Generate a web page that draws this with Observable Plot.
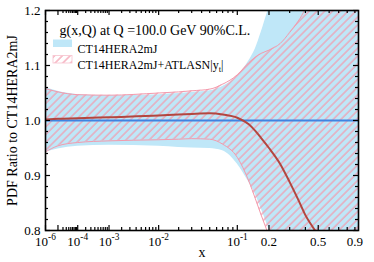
<!DOCTYPE html>
<html><head><meta charset="utf-8">
<script src="https://cdn.jsdelivr.net/npm/d3@7"></script>
<script src="https://cdn.jsdelivr.net/npm/@observablehq/plot@0.6"></script>
<style>
body{margin:0;background:#fff}
svg{display:block}
#chart svg, #chart svg text, #chart svg g {font-family: "Liberation Serif", "DejaVu Serif", serif !important;}
</style>
</head><body><div id="chart"></div>
<script>
// momentum fraction x
const xs =        [1e-6, 1e-5, 1e-4, 1e-3, 1e-2, 0.02, 0.03, 0.05, 0.07, 0.1, 0.13, 0.15, 0.17, 0.2, 0.25, 0.3, 0.35, 0.4, 0.5, 0.7, 0.95];
// CT14HERA2mJ 90% CL band (ratio to its own central)
const baseUpper = [1.060,1.053,1.047,1.045,1.047,1.049,1.051,1.054,1.062,1.080,1.108,1.130,1.160,1.205,1.26,1.32,1.38,1.44,1.55,1.70,1.85];
const baseLower = [0.942,0.948,0.953,0.955,0.953,0.951,0.950,0.949,0.945,0.921,0.888,0.866,0.840,0.802,0.74,0.68,0.62,0.56,0.45,0.30,0.20];
// CT14HERA2mJ+ATLASN|yt| band
const hatchUpper = [1.058,1.052,1.047,1.046,1.050,1.052,1.054,1.057,1.066,1.083,1.105,1.115,1.122,1.128,1.140,1.160,1.180,1.205,1.30,1.45,1.60];
const hatchLower = [0.943,0.954,0.960,0.963,0.965,0.966,0.967,0.966,0.957,0.933,0.890,0.858,0.828,0.790,0.73,0.67,0.61,0.55,0.45,0.30,0.20];
// central of CT14HERA2mJ+ATLASN|yt| / CT14HERA2mJ
const ratio =     [1.002,1.003,1.004,1.006,1.009,1.011,1.012,1.013,1.011,1.005,0.993,0.981,0.968,0.950,0.921,0.888,0.857,0.828,0.79,0.70,0.60];

const xTickValues = [1e-6, 1e-4, 1e-3, 1e-2, 0.1, 0.2, 0.5, 0.9];
const xTickLabels = ["10^{-6}","10^{-4}","10^{-3}","10^{-2}","10^{-1}","0.2","0.5","0.9"];
const yTickValues = [0.8, 0.9, 1.0, 1.1, 1.2];
const yTickLabels = ["0.8","0.9","1.0","1.1","1.2"];
const titleText = "g(x,Q) at Q =100.0 GeV 90%C.L.";
const seriesNames = ["CT14HERA2mJ", "CT14HERA2mJ+ATLASN|y_{t}|"];
const xLabel = "x";
const yLabel = "PDF Ratio to CT14HERA2mJ";

const W = 374, H = 262, mL = 45, mR = 16, mT = 10, mB = 32;
const frameH = H - mT - mB, frameW = W - mL - mR;
const serif = "Liberation Serif";
const blueFill = "#bfe7f8", pink = "#f39aac", redLine = "#b3463f", blueLine = "#3f84e2";

const data = xs.map((x, i) => ({x, bu: baseUpper[i], bl: baseLower[i], hu: hatchUpper[i], hl: hatchLower[i], r: ratio[i]}));

const xMajorTicks = [1e-6, 1e-5, 1e-4, 1e-3, 1e-2, 0.1, 0.2, 0.5];
const xMinorTicks = [];
for (let k = -5; k <= -2; k++) for (let m = 2; m <= 9; m++) xMinorTicks.push(m * Math.pow(10, k));
[0.3, 0.4, 0.6, 0.7, 0.8, 0.9].forEach(v => xMinorTicks.push(v));
const yMinorTicks = d3.range(0, 21).map(i => 0.8 + i * 0.02).filter(v => Math.abs(v * 10 - Math.round(v * 10)) > 1e-6);

const xLab = new Map(xTickValues.map((v, i) => [v, xTickLabels[i]]));
const yLab = new Map(yTickValues.map((v, i) => [v, yTickLabels[i]]));
const curve = "monotone-x";
const tickStyle = {stroke: "black", strokeWidth: 1.2};

const svg = Plot.plot({
  width: W, height: H,
  marginLeft: mL, marginRight: mR, marginTop: mT, marginBottom: mB,
  style: {fontFamily: serif, background: "white", color: "black"},
  x: {type: "pow", exponent: 0.2, domain: [1e-6, 0.95]},
  y: {domain: [0.8, 1.2]},
  marks: [
    Plot.areaY(data, {x: "x", y1: "bl", y2: "bu", fill: blueFill, curve, clip: true}),
    Plot.areaY(data, {x: "x", y1: "hl", y2: "hu", fill: "url(#hatch)", curve, clip: true}),
    Plot.lineY(data, {x: "x", y: "hu", stroke: pink, strokeWidth: 1, curve, clip: true}),
    Plot.lineY(data, {x: "x", y: "hl", stroke: pink, strokeWidth: 1, curve, clip: true}),
    Plot.ruleY([1.0], {stroke: blueLine, strokeWidth: 1.8}),
    Plot.lineY(data, {x: "x", y: "r", stroke: redLine, strokeWidth: 2, curve, clip: true}),
    Plot.ruleX(xMajorTicks, {insetTop: frameH - 5, ...tickStyle}),
    Plot.ruleX(xMajorTicks, {insetBottom: frameH - 5, ...tickStyle}),
    Plot.ruleX(xMinorTicks, {insetTop: frameH - 3, ...tickStyle}),
    Plot.ruleX(xMinorTicks, {insetBottom: frameH - 3, ...tickStyle}),
    Plot.ruleY(yTickValues, {insetRight: frameW - 5, ...tickStyle}),
    Plot.ruleY(yTickValues, {insetLeft: frameW - 5, ...tickStyle}),
    Plot.ruleY(yMinorTicks, {insetRight: frameW - 3, ...tickStyle}),
    Plot.ruleY(yMinorTicks, {insetLeft: frameW - 3, ...tickStyle}),
    Plot.frame({stroke: "black", strokeWidth: 1.6}),
    Plot.axisX(xTickValues, {anchor: "bottom", tickSize: 0, tickPadding: 6, tickFormat: d => xLab.get(d), fontSize: 13, fontFamily: serif, label: null}),
    Plot.axisY(yTickValues, {anchor: "left", tickSize: 0, tickPadding: 5, tickFormat: d => yLab.get(d), fontSize: 13, fontFamily: serif, label: null}),
    Plot.text([xLabel], {frameAnchor: "bottom", dy: 22, lineAnchor: "middle", fontSize: 14, fontFamily: serif}),
    Plot.text([yLabel], {frameAnchor: "left", dx: -33, rotate: -90, textAnchor: "middle", lineAnchor: "middle", fontSize: 14, fontFamily: serif}),
    Plot.text([titleText], {frameAnchor: "top-left", dx: 14, dy: 14.5, textAnchor: "start", fontSize: 14, fontFamily: serif}),
    Plot.text([seriesNames[0]], {frameAnchor: "top-left", dx: 32, dy: 34, textAnchor: "start", fontSize: 12, fontFamily: serif}),
    Plot.text([seriesNames[1]], {frameAnchor: "top-left", dx: 32, dy: 49.5, textAnchor: "start", fontSize: 12, fontFamily: serif})
  ]
});

const s = d3.select(svg);
// hatch pattern
const defs = s.insert("defs", ":first-child");
const pat = defs.append("pattern").attr("id", "hatch").attr("patternUnits", "userSpaceOnUse")
  .attr("width", 5.5).attr("height", 5.5).attr("patternTransform", "rotate(45)");
pat.append("line").attr("x1", 1).attr("y1", 0).attr("x2", 1).attr("y2", 5.5)
  .attr("stroke", pink).attr("stroke-width", 1.2);

// legend swatches
const leg = s.append("g");
leg.append("rect").attr("x", 53).attr("y", 39.5).attr("width", 19).attr("height", 7.5).attr("fill", blueFill);
leg.append("rect").attr("x", 53).attr("y", 55.5).attr("width", 19).attr("height", 7.5)
  .attr("fill", "url(#hatch)").attr("stroke", "#f7c4cf").attr("stroke-width", 0.8);

// superscripts / subscripts
s.selectAll("text").each(function() {
  const str = this.textContent;
  if (!/[\^_]\{/.test(str)) return;
  const el = d3.select(this);
  let fs = 13;
  let n = this;
  while (n && n.getAttribute) { const a = n.getAttribute("font-size"); if (a) { fs = parseFloat(a); break; } n = n.parentNode; }
  el.text(null);
  const re = /([\^_])\{([^}]*)\}/g;
  let last = 0, m, cur = 0;
  const add = (txt, off, small) => {
    const t = el.append("tspan").text(txt).attr("dy", (off - cur));
    if (small) t.attr("font-size", fs * 0.72);
    cur = off;
  };
  while ((m = re.exec(str))) {
    if (m.index > last) add(str.slice(last, m.index), 0, false);
    add(m[2], m[1] === "^" ? -fs * 0.42 : fs * 0.25, true);
    last = re.lastIndex;
  }
  if (last < str.length) add(str.slice(last), 0, false);
});

document.getElementById("chart").appendChild(svg);
</script>
</body></html>
